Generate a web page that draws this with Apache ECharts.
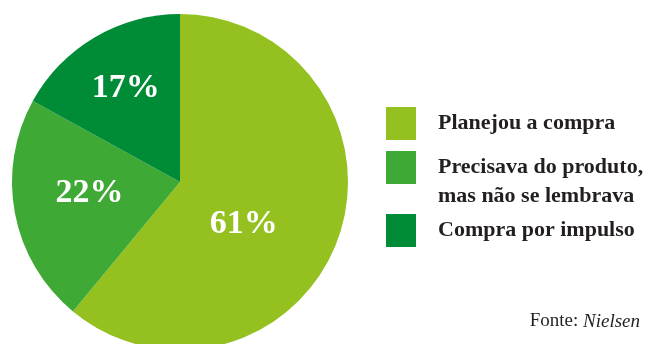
<!DOCTYPE html>
<html><head><meta charset="utf-8">
<script src="https://cdn.jsdelivr.net/npm/echarts@6/dist/echarts.min.js"></script>
<style>html,body{margin:0;padding:0;background:#fff}#c{width:656px;height:344px}</style>
</head><body><div id="c"></div>
<script>
const categories = ['Planejou a compra', 'Precisava do produto,\nmas não se lembrava', 'Compra por impulso'];
const values = [61, 22, 17];
const colors = ['#94c11f', '#3ea935', '#008c36'];
const source = 'Nielsen';

const labelOffsets = [[-18, 13], [-5, -5], [-10, -19]];
const chart = echarts.init(document.getElementById('c'));
const serif = '"Liberation Serif", "DejaVu Serif", serif';
const legendTops = [107, 124, 214];
chart.setOption({
  animation: false,
  title: {
    text: '{a|Fonte: }{b|' + source + '}',
    right: 11, top: 307,
    textStyle: {
      rich: {
        a: { fontFamily: serif, fontSize: 19, fontWeight: 'normal', color: '#231f20' },
        b: { fontFamily: serif, fontSize: 19, fontWeight: 'normal', fontStyle: 'italic', color: '#231f20' }
      }
    }
  },
  legend: categories.map((c, i) => ({
    data: [c],
    left: 386, top: legendTops[i],
    orient: 'vertical',
    icon: 'rect', itemWidth: 30, itemHeight: 33, itemGap: 0,
    selectedMode: false,
    formatter: n => (n.indexOf('\n') >= 0 ? '\n' + n : n),
    textStyle: { fontFamily: serif, fontWeight: 'bold', fontSize: 22, color: '#231f20', lineHeight: 29, padding: [0, 0, 0, 17] },
    padding: 0
  })),
  series: [{
    type: 'pie',
    center: [180, 182],
    radius: [0, 168],
    startAngle: 90,
    clockwise: true,
    color: colors,
    itemStyle: { borderWidth: 0 },
    label: {
      position: 'inside',
      formatter: '{c}%',
      color: '#fff',
      fontFamily: serif,
      fontWeight: 'bold',
      fontSize: 34
    },
    labelLine: { show: false },
    emphasis: { disabled: true },
    data: categories.map((c, i) => ({
      name: c, value: values[i],
      label: { offset: labelOffsets[i] }
    }))
  }]
});
</script></body></html>
